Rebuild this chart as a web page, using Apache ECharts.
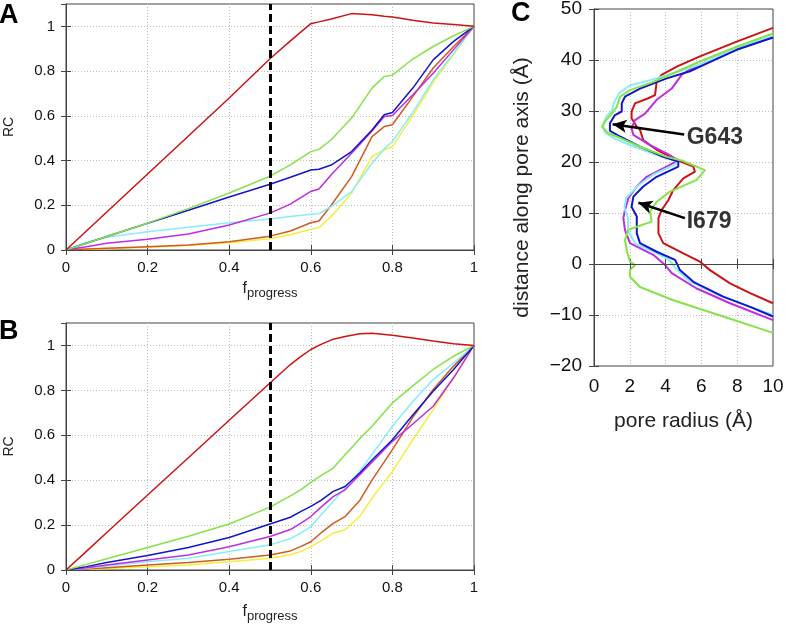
<!DOCTYPE html>
<html>
<head>
<meta charset="utf-8">
<script src="https://cdn.jsdelivr.net/npm/echarts@6/dist/echarts.min.js"></script>
<style>html,body{margin:0;padding:0;background:#fff}#c{width:787px;height:624px}</style>
</head>
<body>
<div id="c"></div>
<script>
// ---------- Panel A ----------
var xA = [0, 0.05, 0.1, 0.2, 0.3, 0.4, 0.5, 0.55, 0.6, 0.62, 0.65, 0.7, 0.75, 0.78, 0.8, 0.85, 0.9, 0.95, 1];
var aRed     = [0, 0.085, 0.17, 0.34, 0.51, 0.68, 0.855, 0.935, 1.012, 1.02, 1.033, 1.057, 1.052, 1.045, 1.042, 1.027, 1.015, 1.008, 1.0];
var aGreen   = [0, 0.03, 0.06, 0.12, 0.185, 0.255, 0.33, 0.381, 0.44, 0.45, 0.493, 0.59, 0.724, 0.776, 0.782, 0.854, 0.91, 0.958, 1];
var aBlue    = [0, 0.03, 0.06, 0.12, 0.178, 0.237, 0.294, 0.325, 0.358, 0.361, 0.38, 0.44, 0.537, 0.605, 0.615, 0.724, 0.85, 0.933, 1];
var aMagenta = [0, 0.015, 0.03, 0.048, 0.072, 0.112, 0.165, 0.205, 0.262, 0.273, 0.336, 0.433, 0.532, 0.597, 0.601, 0.694, 0.79, 0.896, 1];
var aCyan    = [0, 0.035, 0.057, 0.082, 0.102, 0.122, 0.139, 0.15, 0.16, 0.162, 0.194, 0.261, 0.388, 0.452, 0.485, 0.615, 0.761, 0.88, 1];
var aOrange  = [0, 0.004, 0.008, 0.015, 0.022, 0.037, 0.062, 0.085, 0.122, 0.13, 0.2, 0.328, 0.507, 0.552, 0.56, 0.686, 0.814, 0.91, 1];
var aYellow  = [0, 0.003, 0.006, 0.012, 0.02, 0.032, 0.05, 0.068, 0.093, 0.1, 0.15, 0.254, 0.418, 0.448, 0.463, 0.6, 0.75, 0.875, 1];

// ---------- Panel B ----------
var xB = [0, 0.05, 0.1, 0.2, 0.3, 0.4, 0.5, 0.55, 0.575, 0.6, 0.625, 0.655, 0.684, 0.72, 0.75, 0.8, 0.85, 0.9, 0.95, 1];
var bRed     = [0, 0.083, 0.167, 0.334, 0.5, 0.667, 0.833, 0.915, 0.95, 0.982, 1.005, 1.028, 1.04, 1.052, 1.054, 1.045, 1.033, 1.02, 1.008, 1];
var bGreen   = [0, 0.025, 0.05, 0.1, 0.15, 0.205, 0.28, 0.33, 0.357, 0.39, 0.42, 0.454, 0.513, 0.585, 0.64, 0.744, 0.82, 0.893, 0.952, 1];
var bBlue    = [0, 0.015, 0.033, 0.065, 0.1, 0.145, 0.205, 0.235, 0.26, 0.283, 0.31, 0.35, 0.372, 0.432, 0.49, 0.58, 0.69, 0.796, 0.893, 1];
var bMagenta = [0, 0.01, 0.022, 0.045, 0.067, 0.104, 0.149, 0.18, 0.208, 0.238, 0.28, 0.327, 0.357, 0.424, 0.48, 0.573, 0.65, 0.729, 0.856, 1];
var bCyan    = [0, 0.008, 0.018, 0.037, 0.052, 0.082, 0.112, 0.14, 0.164, 0.193, 0.245, 0.305, 0.365, 0.439, 0.515, 0.64, 0.75, 0.848, 0.922, 1];
var bOrange  = [0, 0.004, 0.01, 0.022, 0.033, 0.048, 0.067, 0.085, 0.104, 0.126, 0.165, 0.208, 0.238, 0.31, 0.4, 0.536, 0.68, 0.804, 0.908, 1];
var bYellow  = [0, 0.002, 0.007, 0.015, 0.022, 0.037, 0.052, 0.068, 0.082, 0.104, 0.13, 0.164, 0.179, 0.238, 0.32, 0.439, 0.58, 0.714, 0.856, 1];

// ---------- Panel C (pore radius r, distance z) ----------
var cRedR = [10, 7.97, 5.92, 4.62, 3.78, 3.5, 3.41, 3.03, 2.29, 2.1, 2.1, 2.39, 2.57, 2.75, 3.5, 4.62, 5.55, 5.64, 4.99, 4.43, 4.15, 3.78, 3.6, 3.6, 3.87, 4.99, 5.92, 6.48, 7.6, 8.72, 10];
var cRedZ = [46.3, 43.6, 40.7, 38.7, 37.1, 35.7, 33.1, 32.5, 31.5, 29.9, 28.6, 26.9, 26.3, 24.3, 22.4, 20.4, 19.1, 18.1, 16.8, 14.5, 12.5, 10.6, 9.0, 6.0, 4.1, 2.1, 0.45, -1.2, -3.8, -5.7, -7.7];
var cMagR = [10, 8, 6, 5.2, 4.9, 4.34, 3.5, 2.85, 2.29, 2.1, 2.2, 3.13, 4.06, 4.71, 4.06, 2.94, 2.39, 1.92, 1.73, 1.64, 1.73, 2.01, 3.31, 3.97, 4.34, 5.74, 7.6, 10];
var cMagZ = [44.5, 42.2, 39.2, 37.8, 37.1, 34.4, 32.2, 29.5, 28.2, 26.6, 25.3, 23.3, 21.7, 20.3, 19.1, 17.1, 15.2, 12.9, 10.6, 9.0, 6.7, 4.1, 1.8, -0.2, -1.8, -4.8, -7.7, -11];
var cCyanR = [10, 8, 6, 4.5, 3.3, 2, 1.4, 1.1, 1.0, 0.7, 0.5, 0.6, 1.2, 2.4, 3.8, 4.7, 4.5, 3.3, 2.5, 1.8, 1.7, 1.9, 1.9, 2.3, 3.4, 4.2, 4.6, 5.3, 7, 8.6, 10];
var cCyanZ = [44.7, 42.4, 39.2, 37.5, 36.2, 35, 33.5, 31.5, 30, 29, 27.3, 25.8, 24.5, 22.8, 21, 20.1, 19.5, 17.5, 15.5, 13, 11, 9, 6.5, 4, 2.3, 0.8, -1, -3.3, -6.2, -8.2, -10.0];
var cBlueR = [10, 7.97, 5.92, 5.36, 4.06, 2.57, 1.73, 1.55, 1.55, 1.17, 0.89, 0.89, 1.45, 2.57, 3.87, 4.71, 4.71, 3.5, 2.75, 2.2, 2.1, 2.39, 2.39, 2.57, 3.5, 4.53, 4.8, 5.55, 7.22, 8.72, 10];
var cBlueZ = [44.4, 42, 38.7, 37.8, 36.4, 34.4, 32.8, 31.5, 29.9, 29.2, 27.6, 26.1, 25.0, 23.0, 21.0, 20.1, 19.1, 17.1, 15.2, 13.2, 11.2, 9.3, 6.0, 4.1, 2.4, 0.8, -1.2, -3.5, -6.4, -8.4, -10.3];
var cGreenR = [10, 7.97, 5.92, 4.43, 3.31, 2.01, 1.45, 1.27, 1.08, 0.61, 0.45, 0.8, 1.27, 2.57, 4.06, 4.9, 6.2, 5.74, 4.25, 3.5, 3.13, 3.22, 2.39, 1.92, 1.73, 1.83, 2.01, 2.29, 2.01, 2.01, 2.57, 4.43, 7.22, 10];
var cGreenZ = [45.2, 42.6, 39.7, 37.4, 35.7, 34.1, 32.8, 30.8, 29.9, 27.9, 26.9, 25.6, 25.0, 23.0, 21.0, 20.3, 18.4, 16.5, 14.2, 12.2, 10.3, 8.3, 7.3, 6.7, 4.7, 2.7, 0.45, -0.2, -1.2, -2.5, -4.5, -7.1, -10.3, -13.5];

// annotations in data units: label, label anchor [r,z], arrow tail, arrow head
var annLabels = ['G643', 'I679'];
var annText   = [[5.18, 24.7], [5.18, 8.3]];
var annTail   = [[5.04, 25.4], [5.08, 9.0]];
var annHead   = [[1.04, 27.4], [2.48, 12.0]];

var FONT = 'Liberation Sans, Arial, Helvetica, sans-serif';
var COL = {red:'#cc1414', green:'#86e24a', blue:'#1414c8', magenta:'#c02ce0', cyan:'#86eef6', orange:'#cf5a22', yellow:'#f6ee3c'};

function pairs(xs, ys){ return xs.map(function(x,i){ return [x, ys[i]]; }); }

function lineSeries(name, data, color, xi, yi, w){
  return {type:'line', name:name, data:data, xAxisIndex:xi, yAxisIndex:yi, showSymbol:false, symbol:'none',
    lineStyle:{color:color, width:w||1.5}, itemStyle:{color:color}, animation:false, silent:true, z:3};
}

var gridLine = {show:true, showMinLine:false, showMaxLine:false, lineStyle:{color:'#bdbdbd', type:[1,2], width:1}};
var tickIn = {show:true, inside:true, length:5, lineStyle:{color:'#444'}};
var axLine = {show:true, lineStyle:{color:'#444', width:1}};

function fprog(gap){
  return {name:'{f|f}{p|progress}', nameLocation:'middle', nameGap:gap,
    nameTextStyle:{fontFamily:FONT, color:'#222', rich:{
      f:{fontSize:16, fontFamily:FONT, color:'#222', verticalAlign:'bottom', lineHeight:20, padding:[0,0,3,0]},
      p:{fontSize:13, fontFamily:FONT, color:'#222', verticalAlign:'bottom', lineHeight:20}
    }}};
}

function xMain(grid, gap){
  return Object.assign({type:'value', gridIndex:grid, min:0, max:1, interval:0.2, position:'bottom', z:1,
    axisLine:axLine, axisTick:tickIn, splitLine:gridLine,
    axisLabel:{fontFamily:FONT, fontSize:15, color:'#111', margin:10}}, fprog(gap));
}
function xTop(grid, mn, mx, iv){
  return {type:'value', gridIndex:grid, min:mn, max:mx, interval:iv, position:'top', z:6,
    axisLine:axLine, axisTick:tickIn, splitLine:{show:false}, axisLabel:{show:false}};
}
function yMain(grid){
  return {type:'value', gridIndex:grid, min:0, max:1.1, interval:0.2, position:'left', z:1,
    axisLine:axLine, axisTick:tickIn, splitLine:gridLine,
    axisLabel:{fontFamily:FONT, fontSize:15, color:'#111', margin:11, showMaxLabel:false},
    name:'RC', nameLocation:'middle', nameGap:50, nameTextStyle:{fontFamily:FONT, fontSize:14, color:'#222'}};
}
function yRight(grid, mn, mx, iv){
  return {type:'value', gridIndex:grid, min:mn, max:mx, interval:iv, position:'right', z:6,
    axisLine:axLine, axisTick:tickIn, splitLine:{show:false}, axisLabel:{show:false, showMaxLabel:false}};
}

var dashed = {silent:true, symbol:['none','none'], label:{show:false},
  lineStyle:{color:'#000', width:3, type:[8,4]}, data:[{xAxis:0.5}], animation:false};

var series = [];
// A
series.push(lineSeries('yellow', pairs(xA, aYellow), COL.yellow, 0, 0));
series.push(lineSeries('orange', pairs(xA, aOrange), COL.orange, 0, 0));
series.push(lineSeries('cyan', pairs(xA, aCyan), COL.cyan, 0, 0));
series.push(lineSeries('magenta', pairs(xA, aMagenta), COL.magenta, 0, 0));
series.push(lineSeries('blue', pairs(xA, aBlue), COL.blue, 0, 0));
series.push(lineSeries('green', pairs(xA, aGreen), COL.green, 0, 0));
var sA = lineSeries('red', pairs(xA, aRed), COL.red, 0, 0); sA.markLine = dashed; series.push(sA);
// B
series.push(lineSeries('yellow', pairs(xB, bYellow), COL.yellow, 2, 2));
series.push(lineSeries('orange', pairs(xB, bOrange), COL.orange, 2, 2));
series.push(lineSeries('cyan', pairs(xB, bCyan), COL.cyan, 2, 2));
series.push(lineSeries('magenta', pairs(xB, bMagenta), COL.magenta, 2, 2));
series.push(lineSeries('blue', pairs(xB, bBlue), COL.blue, 2, 2));
series.push(lineSeries('green', pairs(xB, bGreen), COL.green, 2, 2));
var sB = lineSeries('red', pairs(xB, bRed), COL.red, 2, 2); sB.markLine = JSON.parse(JSON.stringify(dashed)); series.push(sB);
// C
series.push(lineSeries('red', pairs(cRedR, cRedZ), COL.red, 4, 4, 2));
series.push(lineSeries('magenta', pairs(cMagR, cMagZ), COL.magenta, 4, 4, 2));
series.push(lineSeries('cyan', pairs(cCyanR, cCyanZ), COL.cyan, 4, 4, 2));
series.push(lineSeries('blue', pairs(cBlueR, cBlueZ), COL.blue, 4, 4, 2));
series.push(lineSeries('green', pairs(cGreenR, cGreenZ), COL.green, 4, 4, 2));
series.push({type:'scatter', xAxisIndex:4, yAxisIndex:4, symbolSize:0, silent:true, animation:false, z:5,
  data: annLabels.map(function(n,i){ return {name:n, value:annText[i]}; }),
  label:{show:true, position:'right', distance:0, formatter:'{b}', fontFamily:FONT, fontSize:23, fontWeight:'bold', color:'#000', textBorderWidth:0},
  markLine:{silent:true, animation:false, symbol:['none','arrow'], symbolSize:[10,14], label:{show:false},
    lineStyle:{color:'#000', width:2.5, type:'solid'},
    data: annLabels.map(function(n,i){ return [{coord:annTail[i]}, {coord:annHead[i]}]; })}
});

var option = {
  animation:false,
  backgroundColor:'#fff',
  textStyle:{fontFamily:FONT},
  grid:[
    {left:66, top:4, width:408, height:246, show:true, borderColor:'#444', borderWidth:1, containLabel:false, outerBoundsMode:'none'},
    {left:66, top:323, width:408, height:247, show:true, borderColor:'#444', borderWidth:1, containLabel:false, outerBoundsMode:'none'},
    {left:594, top:9, width:179, height:357, show:true, borderColor:'#444', borderWidth:1, containLabel:false, outerBoundsMode:'none'}
  ],
  xAxis:[
    xMain(0, 30), xTop(0, 0, 1, 0.2),
    xMain(1, 33), xTop(1, 0, 1, 0.2),
    {type:'value', gridIndex:2, min:0, max:10, interval:2, position:'bottom', z:1,
      axisLine:axLine, axisTick:tickIn, splitLine:gridLine,
      axisLabel:{fontFamily:FONT, fontSize:19, color:'#111', margin:11},
      name:'pore radius (Å)', nameLocation:'middle', nameGap:45, nameTextStyle:{fontFamily:FONT, fontSize:21, color:'#222'}},
    xTop(2, 0, 10, 2)
  ],
  yAxis:[
    yMain(0), yRight(0, 0, 1.1, 0.2),
    yMain(1), yRight(1, 0, 1.1, 0.2),
    {type:'value', gridIndex:2, min:-20, max:50, interval:10, position:'left', z:1,
      axisLine:axLine, axisTick:tickIn, splitLine:gridLine,
      axisLabel:{fontFamily:FONT, fontSize:19, color:'#111', margin:12, formatter:function(v){ return String(v).replace('-', '\u2212'); }},
      name:'distance along pore axis (Å)', nameLocation:'middle', nameGap:61, nameTextStyle:{fontFamily:FONT, fontSize:21, color:'#222'}},
    yRight(2, -20, 50, 10)
  ],
  graphic:[
    {type:'text', left:-1, top:2, style:{text:'A', font:'bold 27px ' + FONT, fill:'#000'}},
    {type:'text', left:-1, top:318, style:{text:'B', font:'bold 27px ' + FONT, fill:'#000'}},
    {type:'text', left:511, top:0, style:{text:'C', font:'bold 27px ' + FONT, fill:'#000'}}
  ],
  series:series
};

var chart = echarts.init(document.getElementById('c'), null, {renderer:'canvas'});
chart.setOption(option);
</script>
</body>
</html>
